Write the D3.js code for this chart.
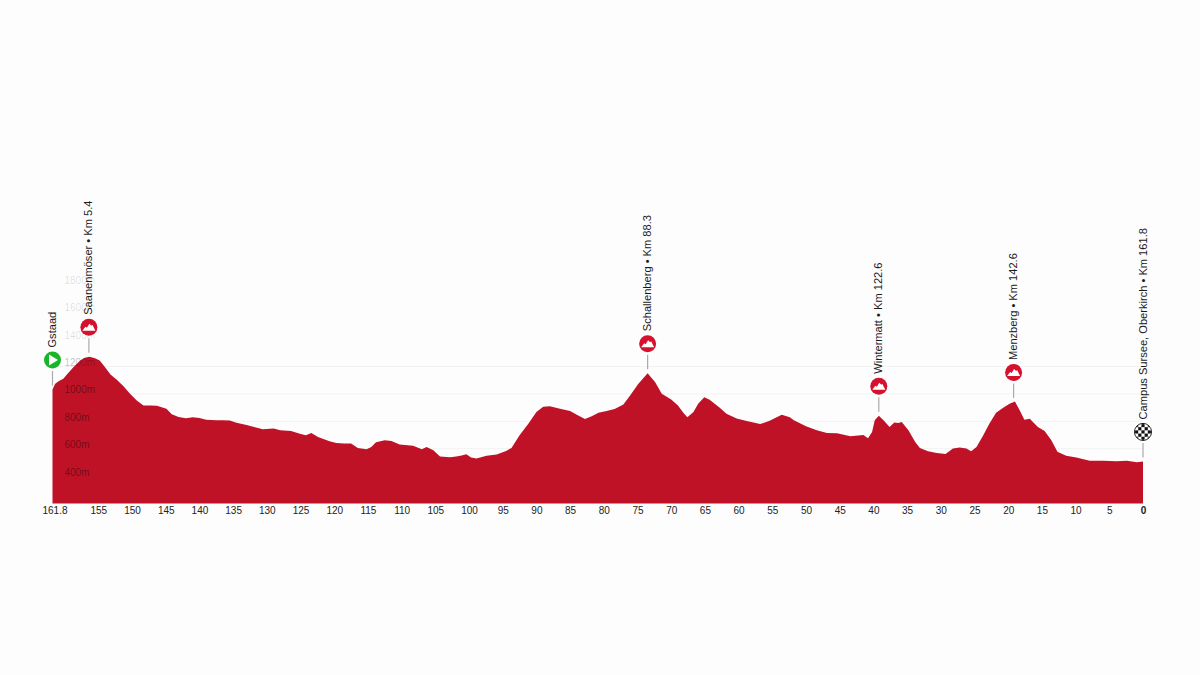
<!DOCTYPE html>
<html><head><meta charset="utf-8">
<script src="https://cdn.jsdelivr.net/npm/d3@7/dist/d3.min.js"></script>
<style>html,body{margin:0;padding:0;background:#fdfdfe}svg{display:block}text{font-family:"Liberation Sans",Arial,sans-serif}</style>
</head><body>
<svg id="c" width="1200" height="675"></svg>
<script>
// distance remaining (km) and elevation (m)
const kmLeft = [161.8,161.4,160.9,160.2,159.5,158.7,157.7,157,156.3,155.5,154.8,154,153.2,152.3,151.3,150.3,149.3,148.3,147.3,146.3,144.9,144.1,143.1,142,141,140,139,137.5,136.5,135.5,
134.5,133,131.6,130.6,129,128,126.4,125.1,124.2,123.4,122.4,120.7,119.7,118.5,117.5,116.5,115.2,114.5,113.8,112.5,111.5,110.3,108.3,107,106.3,105.3,104.3,102.8,101.9,101.1,100.4,99.7,98.9,97.4,95.9,94.5,93.7,92.5,91.2,
90,89,88,86.5,85,83.8,82.8,81.8,80.8,79.6,78.4,77.1,76.1,74.9,73.5,72.4,71.4,70,69,68.2,67.6,66.7,66,65.1,64.3,62.8,61.8,60.3,58.8,56.8,55.4,53.6,52.4,51.8,
50,48.4,46.9,45.4,43.4,41.5,40.8,40.2,39.8,39.2,38.5,37.6,36.9,36.3,35.8,34.8,33.8,33.1,31.9,30.6,29.3,28.2,27.2,26.2,25.5,24.7,23.7,22.8,21.8,20.8,19.8,19,18.3,17.6,16.8,15.6,14.6,13.6,12.7,11.4,9.9,7.9,5.9,3.9,2.4,0.9,0];
const elevation = [1032,1074,1093,1110,1151,1195,1243,1263,1272,1260,1243,1195,1141,1105,1057,1001,952,916,916,914,892,851,831,822,829,824,812,807,807,805,
790,773,754,742,747,735,730,710,698,715,686,655,642,638,638,606,596,613,647,662,657,630,621,596,613,589,543,538,543,550,560,536,529,548,558,584,606,698,783,
867,906,909,892,875,843,817,836,863,875,889,923,989,1073,1151,1086,1001,960,916,863,829,867,928,976,957,899,855,821,802,780,804,848,829,807,
763,734,715,712,691,700,676,722,807,841,807,758,792,788,795,734,649,606,582,569,562,601,608,601,582,613,698,783,863,897,928,945,880,812,819,758,729,662,577,548,536,512,512,509,512,502,507];
const xTickValues = [161.8,155,150,145,140,135,130,125,120,115,110,105,100,95,90,85,80,75,70,65,60,55,50,45,40,35,30,25,20,15,10,5,0];
const yTickValues = [400,600,800,1000,1200,1400,1600,1800];
const gridValues = [400,600,800,1000,1200];
const markerLabels = ["Gstaad","Saanenmöser • Km 5.4","Schallenberg • Km 88.3","Wintermatt • Km 122.6","Menzberg • Km 142.6","Campus Sursee, Oberkirch • Km 161.8"];
const markerKmLeft = [161.8,156.4,73.5,39.2,19.2,0];
const markerTypes = ["start","climb","climb","climb","climb","finish"];

const svg = d3.select("#c");
const x = d3.scaleLinear().domain([161.8,0]).range([52.5,1143]);
const y = d3.scaleLinear().domain([200,1200]).range([503.5,366.5]);
const profile = kmLeft.map((k,i)=>({k,e:elevation[i]}));

// gridlines
svg.append("g").selectAll("line").data(gridValues).join("line")
  .attr("x1",x(161.8)).attr("x2",x(0)).attr("y1",d=>y(d)).attr("y2",d=>y(d))
  .attr("stroke","#f2f2f3").attr("stroke-width",1);

// area
svg.append("path").datum(profile)
  .attr("d",d3.area().x(d=>x(d.k)).y0(y(200)).y1(d=>y(d.e)))
  .attr("fill","#c01227");

// y labels
svg.append("g").selectAll("text").data(yTickValues).join("text")
  .attr("x",64.5).attr("y",d=>y(d)-0.5)
  .attr("font-size",10).attr("fill","#000")
  .attr("fill-opacity",d=>d>1300?0.13:(d>1100?0.25:0.42))
  .text(d=>d+"m");

// x axis
const ax = svg.append("g").attr("transform",`translate(0,${y(200)})`)
  .call(d3.axisBottom(x).tickValues(xTickValues).tickSize(0).tickPadding(3).tickFormat(d=>String(d)));
ax.select(".domain").remove();
ax.selectAll("text").attr("font-size",10).attr("fill","#222")
  .style("font-family",'"Liberation Sans",Arial,sans-serif')
  .attr("dx",d=>d===161.8?2:0)
  .attr("font-weight",d=>d===0?"bold":"normal");

// markers
const elevAt = d3.scaleLinear().domain(kmLeft).range(elevation);
const iconGap = 29.5;
const clip = svg.append("defs").append("clipPath").attr("id","fc");
clip.append("circle").attr("r",8);
const g = svg.append("g").selectAll("g").data(markerKmLeft.map((k,i)=>({k,label:markerLabels[i],type:markerTypes[i]}))).join("g")
  .attr("transform",d=>`translate(${x(d.k)},${y(elevAt(d.k))-iconGap})`);
g.append("line").attr("y1",11).attr("y2",25.5).attr("stroke","#aaa").attr("stroke-width",1.2);
g.append("circle").attr("r",8.5).attr("fill",d=>d.type==="start"?"#18b52b":d.type==="climb"?"#d5112e":"#fff")
  .attr("stroke",d=>d.type==="finish"?"#111":"none").attr("stroke-width",1);
g.filter(d=>d.type==="start").append("path").attr("d","M-3.5,-5.5L5.5,0L-3.5,5.5Z").attr("fill","#fff");
g.filter(d=>d.type==="climb").append("path").attr("d","M-6.5,3.5L-3.5,-0.5L-2,0.5L0.5,-3.5L2.5,-1.5L3.5,-2.5L6.5,3.5Z").attr("fill","#fff");
const fl = g.filter(d=>d.type==="finish").append("g").attr("clip-path","url(#fc)");
fl.append("circle").attr("r",8).attr("fill","#fff");
fl.selectAll("rect").data(d3.cross([0,1,2,3,4],[0,1,2,3,4]).filter(p=>(p[0]+p[1])%2===0)).join("rect")
  .attr("x",p=>-8+p[0]*3.2).attr("y",p=>-8+p[1]*3.2).attr("width",3.2).attr("height",3.2).attr("fill","#111");
g.append("text").attr("transform","translate(3.5,-12.5) rotate(-90)")
  .attr("font-size",11.1).attr("fill","#1a1a1a").text(d=>d.label);
</script>
</body></html>
